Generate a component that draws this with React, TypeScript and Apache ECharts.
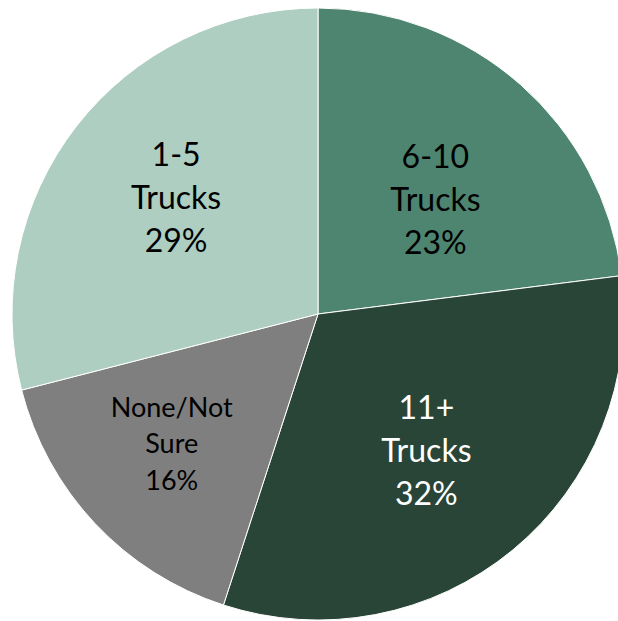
import React, { useEffect, useRef } from "react";
import * as echarts from "echarts";

const categories = ["6-10\nTrucks", "11+\nTrucks", "None/Not\nSure", "1-5\nTrucks"];
const values = [23, 32, 16, 29];
const colors = ["#4E8570", "#294537", "#7F7F7F", "#ADCEC1"];
const labelColors = ["#000000", "#FFFFFF", "#000000", "#000000"];
const labelSizes = [32, 32, 27, 32];
const labelLineHeights = [43, 43, 36.5, 43];
const labelRadial = [1.07, 1.14, 1.26, 1.2];
const labelShiftX = [7, -5, -3, 6];
const labelShiftY = [10, -2, -6, -3];

const CX = 318;
const CY = 314;

export default function App() {
  const ref = useRef<HTMLDivElement>(null);
  useEffect(() => {
    if (!ref.current) return;
    const chart = echarts.init(ref.current, null, { renderer: "svg" });
    chart.setOption({
      animation: false,
      series: [
        {
          type: "pie",
          center: [CX, CY],
          radius: 306,
          startAngle: 90,
          clockwise: true,
          data: categories.map((name, i) => ({
            name,
            value: values[i],
            itemStyle: { color: colors[i] },
            label: {
              color: labelColors[i],
              fontSize: labelSizes[i],
              lineHeight: labelLineHeights[i],
            },
          })),
          itemStyle: { borderColor: "#ffffff", borderWidth: 1 },
          label: {
            show: true,
            position: "inside",
            fontFamily: "Lato, 'Open Sans', sans-serif",
            formatter: (p: any) => `${p.name}\n${p.value}%`,
          },
          labelLayout: (params: any) => {
            const r = params.labelRect;
            const lx = r.x + r.width / 2;
            const ly = r.y + r.height / 2;
            const i = params.dataIndex;
            const f = labelRadial[i] - 1;
            return {
              dx: (lx - CX) * f + labelShiftX[i],
              dy: (ly - CY) * f + labelShiftY[i],
            };
          },
          emphasis: { disabled: true },
        },
      ],
    });
    return () => chart.dispose();
  }, []);
  return (
    <div
      ref={ref}
      style={{ position: "absolute", left: 0, top: 0, width: 618, height: 621 }}
    />
  );
}
